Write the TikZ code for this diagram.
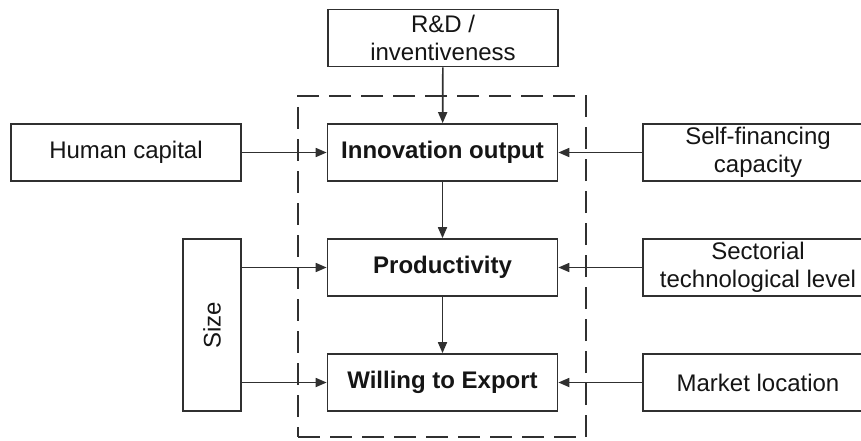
\documentclass[tikz,border=0pt]{standalone}
\usepackage{fontspec}
\setmainfont{Liberation Sans}
\usetikzlibrary{arrows.meta}
\definecolor{lineg}{HTML}{303030}
\definecolor{textg}{HTML}{151515}
\tikzset{
  box/.style={draw=lineg, line width=1.7pt, fill=white, rectangle, minimum width=230pt, minimum height=57pt,
    inner sep=0pt, align=center, text=textg, font=\fontsize{24}{28}\selectfont},
  boldbox/.style={box, font=\fontsize{24}{28}\selectfont\bfseries},
  sidebox/.style={box, minimum width=58pt, minimum height=172pt},
  frame/.style={draw=lineg, line width=1.7pt, dash pattern=on 22pt off 10pt, rectangle,
    minimum width=288pt, minimum height=341pt, inner sep=0pt},
  arr/.style={draw=lineg, line width=1.7pt, -{Triangle[length=11pt,width=9pt]}}
}
\begin{document}
\begin{tikzpicture}[x=1pt,y=-1pt]
  \clip (0,0) rectangle (861,441);
  \useasboundingbox (0,0) rectangle (861,441);
  \node[frame] (fr) at (442,266.5) {};
  \node[box] (rd) at (443,38) {R\&D /\\inventiveness};
  \node[boldbox] (inno) at (442.5,152.5) {Innovation output};
  \node[boldbox] (prod) at (442.5,267.5) {Productivity};
  \node[boldbox] (wte) at (442.5,382.5) {Willing to Export};
  \node[box] (hc) at (126,152.5) {Human capital};
  \node[sidebox] (size) at (212,325) {\rotatebox{90}{Size}};
  \node[box] (sf) at (758,152.5) {Self-financing\\capacity};
  \node[box] (stl) at (758,267.5) {Sectorial\\technological level};
  \node[box] (ml) at (758,382.5) {Market location};
  \draw[arr] (rd) -- (inno);
  \draw[arr] (inno) -- (prod);
  \draw[arr] (prod) -- (wte);
  \draw[arr] (hc) -- (inno);
  \draw[arr] (sf) -- (inno);
  \draw[arr] (stl) -- (prod);
  \draw[arr] (ml) -- (wte);
  \draw[arr] (size.east |- prod.west) -- (prod.west);
  \draw[arr] (size.east |- wte.west) -- (wte.west);
\end{tikzpicture}
\end{document}
